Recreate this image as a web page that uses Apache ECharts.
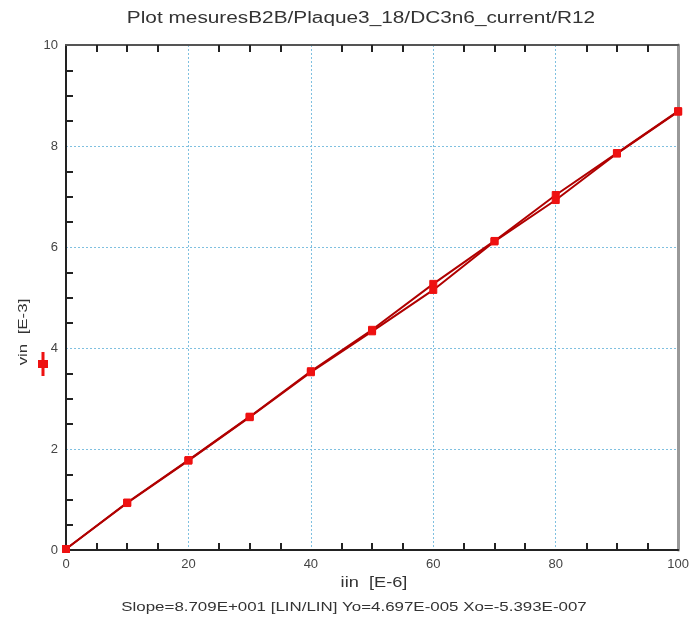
<!DOCTYPE html>
<html><head><meta charset="utf-8">
<script src="https://cdn.jsdelivr.net/npm/echarts@6/dist/echarts.min.js"></script>
<style>html,body{margin:0;padding:0;background:#fff}#c{width:692px;height:630px}</style>
</head><body><div id="c"></div>
<script>
const iin = [0, 10, 20, 30, 40, 50, 60, 70, 80, 90, 100];
const vinUp = [0.02, 0.94, 1.78, 2.64, 3.54, 4.36, 5.27, 6.12, 7.03, 7.86, 8.69];
const vinDown = [0.02, 0.93, 1.77, 2.63, 3.52, 4.33, 5.15, 6.11, 6.93, 7.85, 8.68];
const titleText = 'Plot mesuresB2B/Plaque3_18/DC3n6_current/R12';
const yName = 'vin  [E-3]';
const xName = 'iin  [E-6]';
const fitText = 'Slope=8.709E+001 [LIN/LIN] Yo=4.697E-005 Xo=-5.393E-007';

const chart = echarts.init(document.getElementById('c'));
const font = 'Liberation Sans, Arial, sans-serif';
const gridLine = {show: true, lineStyle: {color: '#7fc0e0', type: [2, 2], width: 1}};
const minor = {show: true, splitNumber: 4, length: 7, lineStyle: {color: '#222', width: 2}};
function mk(name, vals) {
  return {
    name: name, type: 'line', data: iin.map((x, i) => [x, vals[i]]),
    symbol: 'rect', symbolSize: 7, showSymbol: true,
    lineStyle: {color: '#b00000', width: 2},
    itemStyle: {color: '#ee1111', borderColor: '#ee1111', borderWidth: 1},
    z: 5, animation: false
  };
}
const lbl = {fontFamily: font, fontSize: 13, color: '#444', margin: 8};
chart.setOption({
  animation: false,
  grid: {left: 66, right: 10, top: 45, bottom: 80},
  legend: {show: true, data: ['vin'], left: 33, top: 347, orient: 'vertical',
    icon: 'path://M3.5,0h1v22h-1z M0,8h8v6h-8z', itemWidth: 8, itemHeight: 22,
    formatter: () => '', itemStyle: {color: '#ee1111'}, selectedMode: false},
  xAxis: [{
    type: 'value', min: 0, max: 100, interval: 20, position: 'bottom',
    axisLine: {show: true, onZero: false, lineStyle: {color: '#222', width: 2}},
    axisTick: {show: false, inside: true}, minorTick: minor,
    splitLine: gridLine, axisLabel: lbl
  }, {
    type: 'value', min: 0, max: 100, interval: 20, position: 'top',
    axisLine: {show: true, onZero: false, lineStyle: {color: '#555', width: 2}},
    axisTick: {show: false, inside: true}, minorTick: minor, splitLine: {show: false},
    axisLabel: {show: false}
  }],
  yAxis: [{
    type: 'value', min: 0, max: 10, interval: 2, position: 'left',
    axisLine: {show: true, onZero: false, lineStyle: {color: '#222', width: 2}},
    axisTick: {show: false, inside: true}, minorTick: minor,
    splitLine: gridLine, axisLabel: lbl
  }, {
    type: 'value', min: 0, max: 10, interval: 2, position: 'right',
    axisLine: {show: true, onZero: false, lineStyle: {color: '#999', width: 3}},
    axisTick: {show: false}, splitLine: {show: false}, axisLabel: {show: false}
  }],
  series: [mk('vin', vinUp), mk('vin2', vinDown)],
  graphic: [
    {type: 'text', x: 361, y: 19, scaleX: 1.3,
      style: {text: titleText, font: '16px ' + font, fill: '#333', textAlign: 'center', textVerticalAlign: 'middle'}},
    {type: 'text', x: 23, y: 332, rotation: Math.PI / 2, scaleX: 1.3,
      style: {text: yName, font: '13px ' + font, fill: '#333', textAlign: 'center', textVerticalAlign: 'middle'}},
    {type: 'text', x: 374, y: 583, scaleX: 1.3,
      style: {text: xName, font: '14px ' + font, fill: '#333', textAlign: 'center', textVerticalAlign: 'middle'}},
    {type: 'text', x: 354, y: 607, scaleX: 1.3,
      style: {text: fitText, font: '13px ' + font, fill: '#333', textAlign: 'center', textVerticalAlign: 'middle'}}
  ]
});
</script></body></html>
